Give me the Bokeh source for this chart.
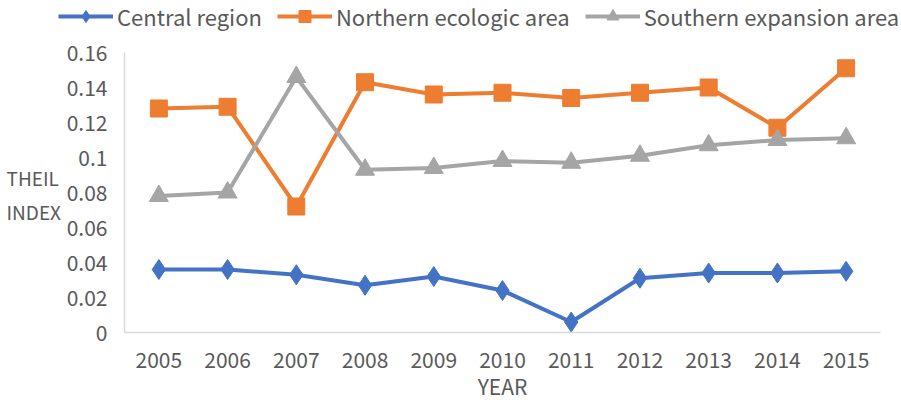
from bokeh.plotting import figure
from bokeh.layouts import column, row
from bokeh.models import Legend, LegendItem, Label, FixedTicker, CustomJSTickFormatter
from bokeh.embed import file_html
from bokeh.resources import INLINE

years = ["2005", "2006", "2007", "2008", "2009", "2010", "2011", "2012", "2013", "2014", "2015"]
central = [0.036, 0.036, 0.033, 0.027, 0.032, 0.024, 0.006, 0.031, 0.034, 0.034, 0.035]
northern = [0.128, 0.129, 0.072, 0.143, 0.136, 0.137, 0.134, 0.137, 0.140, 0.117, 0.151]
southern = [0.078, 0.080, 0.146, 0.093, 0.094, 0.098, 0.097, 0.101, 0.107, 0.110, 0.111]
y_ticks = [0, 0.02, 0.04, 0.06, 0.08, 0.10, 0.12, 0.14, 0.16]
series_names = ["Central region", "Northern ecologic area", "Southern expansion area"]

FONT = "Noto Sans CJK SC"
TXT = "#595959"
BLUE, ORANGE, GRAY = "#4472C4", "#ED7D31", "#A5A5A5"
colors = [BLUE, ORANGE, GRAY]
markers = ["diamond", "square", "triangle"]
sizes = [20, 17, 19]
series = [central, northern, southern]

# ---- main chart ----
p = figure(x_range=years, y_range=(0, 0.16), width=839, height=369,
           output_backend="svg", toolbar_location=None,
           min_border_left=62, min_border_right=21, min_border_bottom=69, min_border_top=18)
p.outline_line_color = None
p.grid.grid_line_color = None

for vals, col, mk, sz in zip(series, colors, markers, sizes):
    p.line(years, vals, line_color=col, line_width=4)
    p.scatter(years, vals, marker=mk, size=sz, fill_color=col, line_color=col)

for ax in (p.xaxis[0], p.yaxis[0]):
    ax.axis_line_color = "#D9D9D9"
    ax.axis_line_width = 1.5
    ax.major_tick_line_color = None
    ax.minor_tick_line_color = None
    ax.major_label_text_font = FONT
    ax.major_label_text_color = TXT
    ax.major_label_text_font_size = "21px"

p.yaxis.ticker = FixedTicker(ticks=y_ticks)
p.yaxis.formatter = CustomJSTickFormatter(code="return String(Math.round(tick*100)/100);")
p.yaxis.major_label_standoff = 11
p.xaxis.major_label_standoff = 13
p.xaxis.axis_label = "YEAR"
p.xaxis.axis_label_text_font = FONT
p.xaxis.axis_label_text_font_size = "21px"
p.xaxis.axis_label_text_font_style = "normal"
p.xaxis.axis_label_text_color = TXT
p.xaxis.axis_label_standoff = 0

# ---- y-axis title (horizontal, two lines) ----
lab = figure(width=62, height=369, x_range=(0, 1), y_range=(0, 0.16),
             output_backend="svg", toolbar_location=None,
             x_axis_location=None, y_axis_location=None,
             min_border_left=0, min_border_right=0, min_border_top=0, min_border_bottom=0)
lab.outline_line_color = None
lab.grid.grid_line_color = None
for txt, yv in (("THEIL", 0.0885), ("INDEX", 0.069)):
    lab.add_layout(Label(x=6, x_units="screen", y=yv, y_units="data", text=txt,
                         text_font=FONT, text_font_size="19px", text_color=TXT,
                         text_baseline="middle", text_align="left"))

# ---- legend strip ----
lg = figure(width=901, height=34, x_range=(0, 1), y_range=(1, 2),
            output_backend="svg", toolbar_location=None,
            x_axis_location=None, y_axis_location=None,
            min_border_left=0, min_border_right=0, min_border_top=0, min_border_bottom=0)
lg.outline_line_color = None
lg.grid.grid_line_color = None
items = []
for name, vals, col, mk, sz in zip(series_names, series, colors, markers, sizes):
    xs = list(range(len(vals)))
    r1 = lg.line(x=xs, y=vals, line_color=col, line_width=4)
    r2 = lg.scatter(x=xs, y=vals, marker=mk, size=sz, fill_color=col, line_color=col)
    items.append(LegendItem(label=name, renderers=[r1, r2]))
legend = Legend(items=items, orientation="horizontal", location=(58, 2),
                label_text_font=FONT, label_text_font_size="22px", label_text_color=TXT,
                glyph_width=55, glyph_height=30, label_standoff=4, spacing=15,
                padding=0, margin=0, border_line_color=None, background_fill_alpha=0)
lg.add_layout(legend)

layout = column(lg, row(lab, p))
open("out.html", "w").write(file_html(layout, INLINE))
